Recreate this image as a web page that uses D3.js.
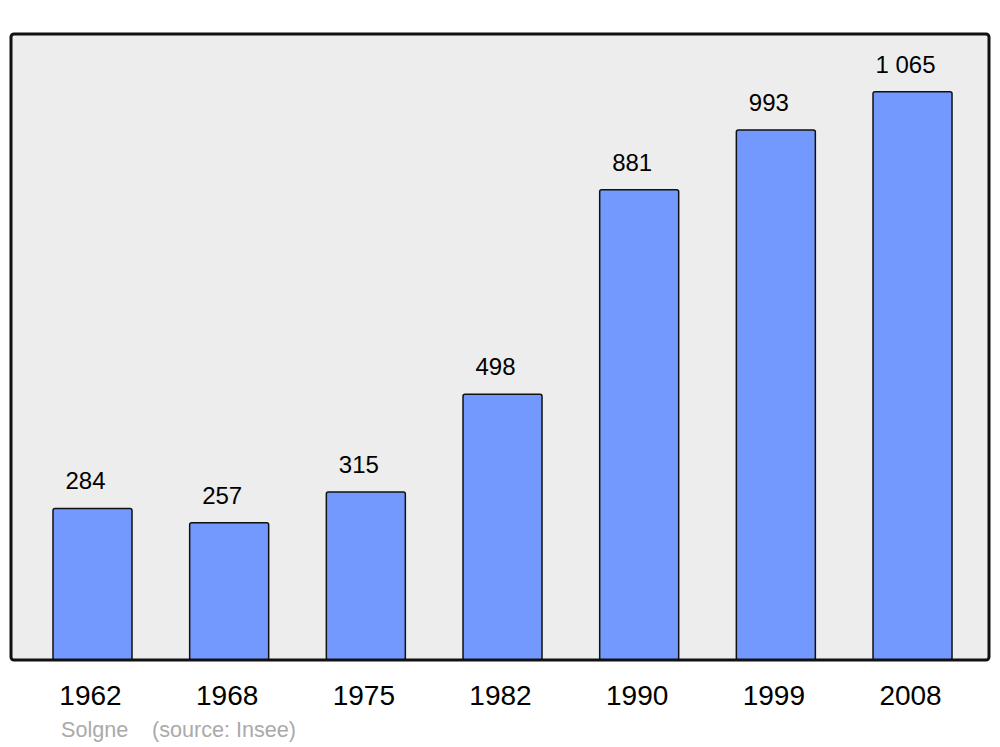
<!DOCTYPE html>
<html><head><meta charset="utf-8">
<script src="https://cdn.jsdelivr.net/npm/d3@7"></script>
<style>body{margin:0;background:#fff}</style>
</head><body>
<script>
const years = ["1962","1968","1975","1982","1990","1999","2008"];
const population = [284,257,315,498,881,993,1065];
const valueLabels = ["284","257","315","498","881","993","1 065"];
const sourceName = "Solgne";
const sourceNote = "(source: Insee)";

const W=1000,H=747;
const svg=d3.select("body").append("svg").attr("width",W).attr("height",H);
const frame={x:11,y:34,w:978,h:626};
const step=136.67, bw=79, x0=53;
const xBand=d3.scaleBand().domain(years).range([x0, x0+6*step+bw]).paddingInner(1-bw/step).paddingOuter(0);
const y=d3.scaleLinear().domain([0,1173]).range([frame.y+frame.h, frame.y]);
const font="Liberation Sans, Arial, sans-serif";

svg.append("rect").attr("x",frame.x).attr("y",frame.y).attr("width",frame.w).attr("height",frame.h)
  .attr("rx",3).attr("fill","#ededed");

svg.selectAll(".bar").data(years).join("rect")
  .attr("x",d=>xBand(d)).attr("width",xBand.bandwidth())
  .attr("y",(d,i)=>y(population[i])).attr("height",(d,i)=>y(0)-y(population[i]))
  .attr("rx",2).attr("fill","#7399ff").attr("stroke","#111").attr("stroke-width",1.5);

svg.selectAll(".val").data(years).join("text")
  .attr("x",d=>xBand(d)+xBand.bandwidth()/2-7)
  .attr("y",(d,i)=>y(population[i])-19)
  .attr("text-anchor","middle").attr("font-family",font)
  .attr("font-size",24).attr("fill","#000").text((d,i)=>valueLabels[i]);

svg.append("rect").attr("x",frame.x).attr("y",frame.y).attr("width",frame.w).attr("height",frame.h)
  .attr("rx",3).attr("fill","none").attr("stroke","#111").attr("stroke-width",3);

const xAxis=svg.append("g").attr("transform",`translate(0,${frame.y+frame.h})`)
  .call(d3.axisBottom(xBand).tickSize(0).tickPadding(0));
xAxis.select(".domain").remove();
xAxis.selectAll("text").attr("font-family",font)
  .attr("font-size",28).attr("fill","#000").attr("dy",null).attr("y",45).attr("x",-2);

svg.append("text").attr("x",61).attr("y",737).attr("font-family",font)
  .attr("font-size",21.6).attr("fill","#aaa").text(sourceName);
svg.append("text").attr("x",152).attr("y",737).attr("font-family",font)
  .attr("font-size",21.6).attr("fill","#aaa").text(sourceNote);
</script>
</body></html>
